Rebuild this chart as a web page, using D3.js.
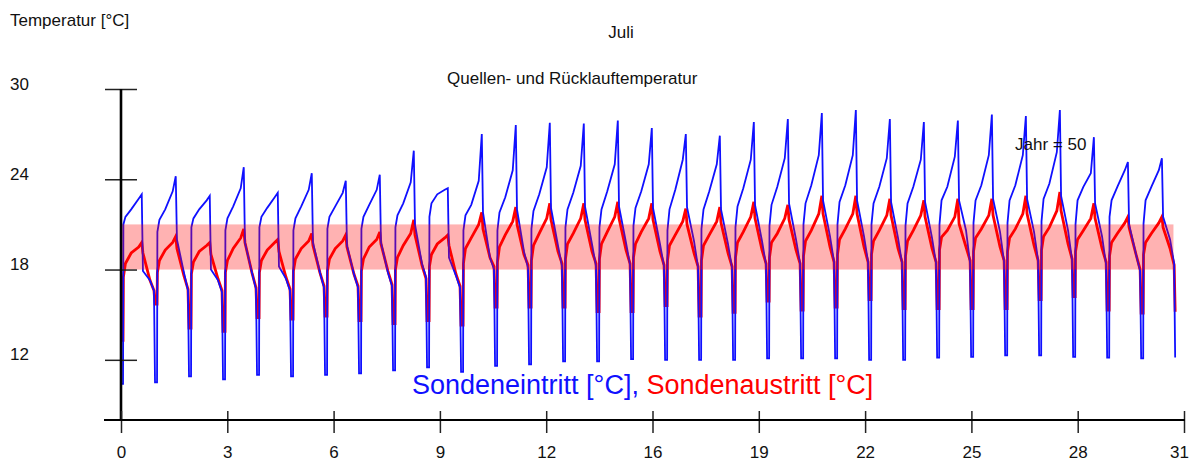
<!DOCTYPE html>
<html lang="de">
<head>
<meta charset="UTF-8">
<title>Juli - Quellen- und Rücklauftemperatur</title>
<script src="https://d3js.org/d3.v7.min.js"></script>
<style>
  body { margin: 0; background: #fff; }
  svg { display: block; font-family: "Liberation Sans", Arial, sans-serif; }
</style>
</head>
<body>
<div id="chart"></div>
<script>
// position (fraction of a day) of the points read inside each daily cycle
const cycleOffsets = [0.00, 0.06, 0.07, 0.13, 0.30, 0.52, 0.61, 0.645, 0.85, 0.97];

// per day: [min, start, early, mid, pre, peak, drop, late1, late2] in °C
const sondeneintritt = [
  [10.4, 21.0, 21.5, 22.0, 22.7, 23.0, 17.9, 17.3, 16.6],
  [10.5, 20.5, 21.3, 22.0, 23.2, 24.2, 20.0, 17.8, 16.6],
  [10.9, 20.8, 21.4, 22.0, 22.6, 22.9, 18.0, 17.3, 16.5],
  [10.7, 20.6, 21.4, 22.2, 23.4, 24.8, 19.8, 17.8, 16.7],
  [11.0, 20.8, 21.5, 22.1, 22.8, 23.1, 18.2, 17.4, 16.6],
  [10.9, 20.6, 21.4, 22.2, 23.3, 24.4, 19.8, 17.8, 16.8],
  [11.0, 20.7, 21.5, 22.2, 23.1, 23.9, 19.6, 17.7, 16.8],
  [11.1, 20.7, 21.5, 22.3, 23.3, 24.3, 19.8, 17.8, 16.9],
  [11.3, 20.8, 21.6, 22.4, 23.8, 25.9, 21.0, 18.4, 17.5],
  [11.5, 21.5, 22.4, 23.0, 23.3, 23.4, 18.8, 17.6, 16.8],
  [11.2, 20.6, 21.6, 22.3, 23.9, 27.0, 21.8, 18.8, 18.0],
  [11.6, 20.6, 21.8, 22.8, 24.6, 27.6, 22.0, 19.2, 18.1],
  [11.7, 20.7, 21.9, 23.0, 24.8, 27.75, 22.1, 19.6, 18.2],
  [11.9, 20.8, 22.0, 23.1, 24.9, 27.7, 22.2, 19.7, 18.2],
  [11.9, 20.8, 22.0, 23.2, 25.0, 27.9, 22.2, 19.8, 18.3],
  [12.05, 20.9, 22.1, 23.2, 25.0, 27.4, 22.1, 19.7, 18.2],
  [12.0, 20.6, 22.0, 23.3, 25.3, 27.0, 22.15, 19.9, 18.15],
  [12.0, 20.7, 22.0, 23.2, 25.0, 26.9, 22.0, 19.7, 18.1],
  [12.0, 20.8, 22.2, 23.4, 25.3, 27.8, 22.3, 19.9, 18.3],
  [12.1, 20.9, 22.3, 23.5, 25.4, 28.0, 22.4, 20.0, 18.4],
  [12.1, 21.0, 22.4, 23.6, 25.6, 28.4, 22.6, 20.2, 18.5],
  [12.1, 21.0, 22.5, 23.6, 25.6, 28.6, 22.6, 20.2, 18.5],
  [12.0, 21.0, 22.4, 23.5, 25.4, 28.0, 22.5, 20.1, 18.4],
  [12.0, 20.9, 22.4, 23.5, 25.3, 27.8, 22.5, 20.1, 18.4],
  [12.15, 21.0, 22.6, 23.5, 25.5, 27.9, 22.6, 20.6, 18.4],
  [12.2, 21.1, 22.6, 23.6, 25.6, 28.3, 22.7, 20.5, 18.5],
  [12.3, 21.1, 22.6, 23.6, 25.6, 28.2, 22.7, 20.5, 18.6],
  [12.3, 21.2, 22.7, 23.7, 25.8, 28.6, 22.9, 20.6, 18.6],
  [12.2, 21.0, 22.6, 23.5, 24.4, 26.8, 22.4, 20.2, 18.3],
  [12.15, 21.5, 22.6, 23.5, 24.6, 25.15, 21.0, 19.0, 17.9],
  [12.1, 21.05, 22.6, 23.5, 24.6, 25.4, 21.5, 20.0, 18.4]
];
const sondenaustritt = [
  [13.3, 17.5, 18.4, 19.1, 19.5, 19.8, 19.1, 17.3, 16.6],
  [15.7, 17.8, 18.6, 19.3, 19.8, 20.2, 19.4, 17.6, 16.7],
  [14.1, 17.7, 18.5, 19.2, 19.6, 19.8, 19.0, 17.4, 16.6],
  [13.9, 17.8, 18.6, 19.4, 20.1, 20.7, 19.8, 17.8, 16.8],
  [14.8, 17.8, 18.6, 19.3, 19.8, 20.0, 19.2, 17.5, 16.7],
  [14.7, 17.9, 18.7, 19.4, 19.9, 20.4, 19.6, 17.8, 16.9],
  [14.9, 17.9, 18.7, 19.4, 19.9, 20.3, 19.5, 17.7, 16.9],
  [14.6, 17.9, 18.7, 19.5, 20.0, 20.5, 19.7, 17.9, 17.0],
  [14.4, 18.0, 18.8, 19.6, 20.4, 21.3, 20.3, 18.3, 17.4],
  [14.6, 18.2, 19.0, 19.7, 20.1, 20.3, 19.6, 17.7, 16.9],
  [14.3, 18.4, 19.4, 20.1, 21.0, 21.8, 20.7, 18.8, 18.2],
  [15.5, 18.5, 19.5, 20.3, 21.2, 22.15, 21.0, 19.0, 18.3],
  [15.5, 18.6, 19.6, 20.4, 21.4, 22.4, 21.3, 19.2, 18.4],
  [15.5, 18.7, 19.7, 20.4, 21.4, 22.4, 21.3, 19.2, 18.4],
  [15.2, 18.7, 19.7, 20.5, 21.5, 22.5, 21.4, 19.3, 18.4],
  [15.2, 18.8, 19.7, 20.5, 21.4, 22.4, 21.3, 19.2, 18.3],
  [15.6, 18.6, 19.6, 20.3, 21.2, 22.05, 21.0, 19.1, 18.2],
  [14.9, 18.6, 19.6, 20.3, 21.2, 22.15, 21.1, 19.1, 18.2],
  [15.15, 18.8, 19.8, 20.5, 21.5, 22.5, 21.4, 19.3, 18.4],
  [15.9, 18.8, 19.8, 20.4, 21.4, 22.3, 21.3, 19.3, 18.4],
  [15.3, 18.9, 19.9, 20.6, 21.7, 22.9, 21.7, 19.5, 18.5],
  [15.5, 19.0, 20.0, 20.7, 21.7, 22.9, 21.7, 19.5, 18.5],
  [16.0, 19.0, 19.9, 20.6, 21.6, 22.7, 21.6, 19.4, 18.5],
  [15.4, 18.9, 19.9, 20.6, 21.6, 22.6, 21.5, 19.4, 18.5],
  [15.4, 19.3, 20.15, 20.6, 21.5, 22.7, 21.05, 19.5, 18.6],
  [15.4, 19.2, 20.1, 20.7, 21.6, 22.7, 21.6, 19.5, 18.6],
  [15.4, 19.2, 20.1, 20.7, 21.7, 22.9, 21.7, 19.6, 18.6],
  [16.0, 19.3, 20.2, 20.8, 21.9, 23.15, 21.9, 19.7, 18.7],
  [16.2, 19.2, 20.0, 20.6, 21.4, 22.4, 21.4, 19.4, 18.5],
  [15.3, 18.9, 19.8, 20.4, 21.1, 21.5, 20.8, 19.0, 18.0],
  [15.1, 19.0, 19.8, 20.4, 21.1, 21.5, 20.8, 19.4, 18.3]
];
// last value after the final drop at the end of the month
const endEintritt = 12.15;
const endAustritt = 15.2;

// pink target band [°C] and its time span [days]
const bandTemps = [18, 21];
const bandDays = [0, 30.95];

const yTicks = [12, 18, 24, 30];
const xTickLabels = [0, 3, 6, 9, 12, 16, 19, 22, 25, 28, 31];
const xMax = 31.26;

const width = 1192, height = 462;

const svg = d3.select("#chart").append("svg")
  .attr("width", width)
  .attr("height", height);

const x = d3.scaleLinear().domain([0, xMax]).range([121, 1184]);
const y = d3.scaleLinear().domain([8, 30]).range([420, 89]);

function buildSeries(days, endValue) {
  const pts = [];
  days.forEach((v, d) => {
    cycleOffsets.forEach((o, k) => {
      pts.push([d + o, v[Math.max(0, k - 1)]]);
    });
  });
  pts.push([days.length, endValue]);
  return pts;
}

const line = d3.line()
  .x(d => x(d[0]))
  .y(d => y(d[1]));

// series
svg.append("path")
  .datum(buildSeries(sondenaustritt, endAustritt))
  .attr("d", line)
  .attr("fill", "none")
  .attr("stroke", "#ff0000")
  .attr("stroke-width", 2.8)
  .attr("stroke-linejoin", "miter");

svg.append("path")
  .datum(buildSeries(sondeneintritt, endEintritt))
  .attr("d", line)
  .attr("fill", "none")
  .attr("stroke", "#1010ff")
  .attr("stroke-width", 1.8)
  .attr("stroke-linejoin", "miter");

// band lies over the curves, semi transparent
svg.append("rect")
  .attr("x", x(bandDays[0]))
  .attr("y", y(bandTemps[1]))
  .attr("width", x(bandDays[1]) - x(bandDays[0]))
  .attr("height", y(bandTemps[0]) - y(bandTemps[1]))
  .attr("fill", "#ff0000")
  .attr("fill-opacity", 0.3);

// y axis
const yAxis = svg.append("g")
  .attr("transform", `translate(${x(0)},0)`)
  .call(d3.axisLeft(y).tickValues(yTicks).tickSize(16).tickFormat(d3.format("d")))
  .call(g => g.select(".domain").remove());
yAxis.selectAll(".tick line")
  .attr("x1", -16).attr("x2", 16)
  .attr("stroke", "#222").attr("stroke-width", 1.5);
yAxis.selectAll(".tick text")
  .attr("x", 10 - x(0))
  .attr("dy", 0)
  .attr("text-anchor", "start")
  .attr("fill", "#111")
  .style("font-size", "17px")
  .style("font-family", "'Liberation Sans', Arial, sans-serif");

svg.append("line")
  .attr("x1", x(0)).attr("x2", x(0))
  .attr("y1", y(30)).attr("y2", y(8))
  .attr("stroke", "#000").attr("stroke-width", 2.6);

// x axis
const xTickValues = xTickLabels.map((_, i) => i * xMax / 10);
const xAxis = svg.append("g")
  .attr("transform", `translate(0,${y(8)})`)
  .call(d3.axisBottom(x).tickValues(xTickValues).tickSize(13).tickFormat((d, i) => xTickLabels[i]))
  .call(g => g.select(".domain").remove());
xAxis.selectAll(".tick line")
  .attr("y1", -9).attr("y2", 13)
  .attr("stroke", "#222").attr("stroke-width", 1.5);
xAxis.selectAll(".tick text")
  .attr("y", 38)
  .attr("dy", 0)
  .attr("dx", (d, i) => i === xTickLabels.length - 1 ? -5 : 0)
  .attr("fill", "#111")
  .style("font-size", "17px")
  .style("font-family", "'Liberation Sans', Arial, sans-serif");

svg.append("line")
  .attr("x1", 104).attr("x2", x(xMax) + 1)
  .attr("y1", y(8)).attr("y2", y(8))
  .attr("stroke", "#000").attr("stroke-width", 2);

// texts
const label = (tx, ty, str, anchor) => svg.append("text")
  .attr("x", tx).attr("y", ty)
  .attr("text-anchor", anchor || "start")
  .attr("fill", "#111")
  .style("font-size", "17px")
  .text(str);

label(10, 26, "Temperatur [°C]");
label(621, 38, "Juli", "middle");
label(447, 84, "Quellen- und Rücklauftemperatur");
label(1015, 150, "Jahr = 50");

const legend = svg.append("text")
  .attr("x", 412).attr("y", 394)
  .style("font-size", "27px");
legend.append("tspan").attr("fill", "#1010ff").text("Sondeneintritt [°C],");
legend.append("tspan").attr("fill", "#ff0000").text(" Sondenaustritt [°C]");
</script>
</body>
</html>
